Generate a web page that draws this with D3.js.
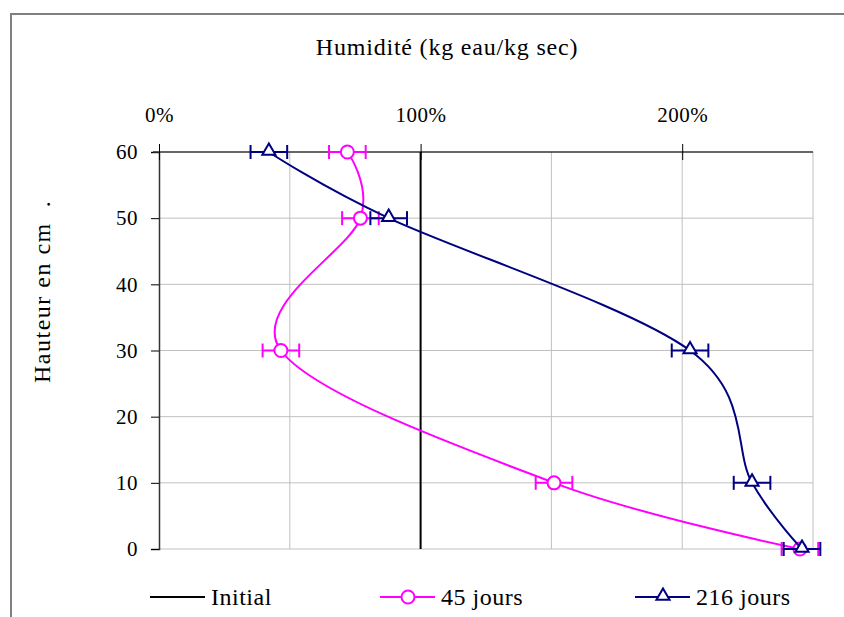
<!DOCTYPE html>
<html>
<head>
<meta charset="utf-8">
<script src="https://cdn.jsdelivr.net/npm/d3@7"></script>
<style>
  body { margin: 0; background: #fff; }
  text { font-family: "Liberation Serif", "Times New Roman", serif; white-space: pre; }
</style>
</head>
<body>
<svg id="chart"></svg>
<script>
// heights (cm) and humidity (% kg eau / kg sec)
const heights = [60, 50, 30, 10, 0];
const initial = [100, 100, 100, 100, 100];
const jours45 = [72, 77, 46.6, 151, 245];
const jours216 = [42, 87.8, 203, 226.7, 245.8];
const errorBar = 7;

const xTicks = [0, 100, 200];
const xGrid = [50, 100, 150, 200, 250];
const yTicks = [0, 10, 20, 30, 40, 50, 60];

const width = 844, height = 617;

const svg = d3.select('#chart')
    .attr('width', width)
    .attr('height', height);

// chart frame
svg.append('rect')
    .attr('x', 11).attr('y', 14)
    .attr('width', 850).attr('height', 620)
    .attr('fill', 'none')
    .attr('stroke', '#808080')
    .attr('stroke-width', 2);

const x = d3.scaleLinear().domain([0, 250]).range([159, 813]);
const y = d3.scaleLinear().domain([0, 60]).range([549, 152]);

// grid
svg.append('g')
    .selectAll('line')
    .data(xGrid)
    .join('line')
    .attr('x1', d => x(d)).attr('x2', d => x(d))
    .attr('y1', y(60)).attr('y2', y(0))
    .attr('stroke', '#c0c0c0');

svg.append('g')
    .selectAll('line')
    .data(yTicks.filter(d => d < 60))
    .join('line')
    .attr('x1', x(0)).attr('x2', x(250))
    .attr('y1', d => y(d)).attr('y2', d => y(d))
    .attr('stroke', '#c0c0c0');

// axes
const yAxis = svg.append('g')
    .attr('transform', `translate(${x(0)},0)`)
    .call(d3.axisLeft(y).tickValues(yTicks).tickSize(8).tickPadding(13));
yAxis.select('.domain').attr('stroke', '#333').attr('stroke-width', 1.5);
yAxis.selectAll('.tick line').attr('stroke', '#000');
yAxis.selectAll('text').attr('font-size', 21).attr('letter-spacing', 0.5)
    .attr('font-family', 'Liberation Serif').attr('fill', '#000');

const xAxis = svg.append('g')
    .attr('transform', `translate(0,${y(60)})`)
    .call(d3.axisTop(x).tickValues(xTicks).tickSize(8).tickPadding(22)
        .tickFormat(d => d + '%'));
xAxis.select('.domain').attr('stroke', '#333').attr('stroke-width', 1.5).attr('d', `M${x(0) - 6},0H${x(250)}`);
xAxis.selectAll('.tick line').attr('stroke', '#000').attr('y2', 8).attr('y1', -8);
xAxis.selectAll('text').attr('font-size', 21).attr('letter-spacing', 0.5)
    .attr('font-family', 'Liberation Serif').attr('fill', '#000');

// titles
svg.append('text')
    .attr('x', 447).attr('y', 55)
    .attr('text-anchor', 'middle')
    .attr('font-size', 24)
    .attr('letter-spacing', 0.8)
    .text('Humidité (kg eau/kg sec)');

svg.append('text')
    .attr('transform', 'translate(50,383) rotate(-90)')
    .attr('font-size', 24)
    .attr('letter-spacing', 1.5)
    .text('Hauteur en cm  .');

const line = d3.line()
    .x(d => x(d[0]))
    .y(d => y(d[1]))
    .curve(d3.curveCardinal.tension(0));

const series = [
    {name: '216 jours', values: jours216, color: '#000080', marker: 'triangle'},
    {name: '45 jours', values: jours45, color: '#ff00ff', marker: 'circle'}
];

// initial line
svg.append('path')
    .datum(heights.map((h, i) => [initial[i], h]))
    .attr('d', d3.line().x(d => x(d[0])).y(d => y(d[1])))
    .attr('fill', 'none')
    .attr('stroke', '#000')
    .attr('stroke-width', 2);

const tri = d3.symbol().type(d3.symbolTriangle).size(75);

function drawMarker(g, kind, color) {
    if (kind === 'circle') {
        g.append('circle').attr('r', 6.5)
            .attr('fill', '#fff').attr('stroke', color).attr('stroke-width', 2);
    } else {
        g.append('path').attr('d', tri())
            .attr('transform', 'translate(0,-1)')
            .attr('fill', '#fff').attr('stroke', color).attr('stroke-width', 2);
    }
}

[series[1], series[0]].forEach(s => {
    const pts = heights.map((h, i) => [s.values[i], h]);
    svg.append('path')
        .datum(pts)
        .attr('d', line)
        .attr('fill', 'none')
        .attr('stroke', s.color)
        .attr('stroke-width', 2);

    const eb = svg.append('g')
        .attr('stroke', s.color)
        .attr('stroke-width', 2);
    pts.forEach(p => {
        const x1 = x(p[0] - errorBar), x2 = x(p[0] + errorBar), yy = y(p[1]);
        eb.append('line').attr('x1', x1).attr('x2', x2).attr('y1', yy).attr('y2', yy);
        eb.append('line').attr('x1', x1).attr('x2', x1).attr('y1', yy - 7).attr('y2', yy + 7);
        eb.append('line').attr('x1', x2).attr('x2', x2).attr('y1', yy - 7).attr('y2', yy + 7);
    });

    pts.forEach(p => {
        const g = svg.append('g').attr('transform', `translate(${x(p[0])},${y(p[1])})`);
        drawMarker(g, s.marker, s.color);
    });
});

// legend
const legendItems = [
    {name: 'Initial', color: '#000', marker: null, x: 150},
    {name: '45 jours', color: '#ff00ff', marker: 'circle', x: 380},
    {name: '216 jours', color: '#000080', marker: 'triangle', x: 635}
];
const legend = svg.append('g').attr('transform', 'translate(0,597)');
legendItems.forEach(d => {
    const g = legend.append('g').attr('transform', `translate(${d.x},0)`);
    g.append('line').attr('x1', 0).attr('x2', 55).attr('stroke', d.color).attr('stroke-width', 2);
    if (d.marker) {
        const m = g.append('g').attr('transform', 'translate(28,0)');
        drawMarker(m, d.marker, d.color);
    }
    g.append('text').attr('x', 61).attr('y', 8).attr('font-size', 24)
        .attr('letter-spacing', 0.5).text(d.name);
});
</script>
</body>
</html>
